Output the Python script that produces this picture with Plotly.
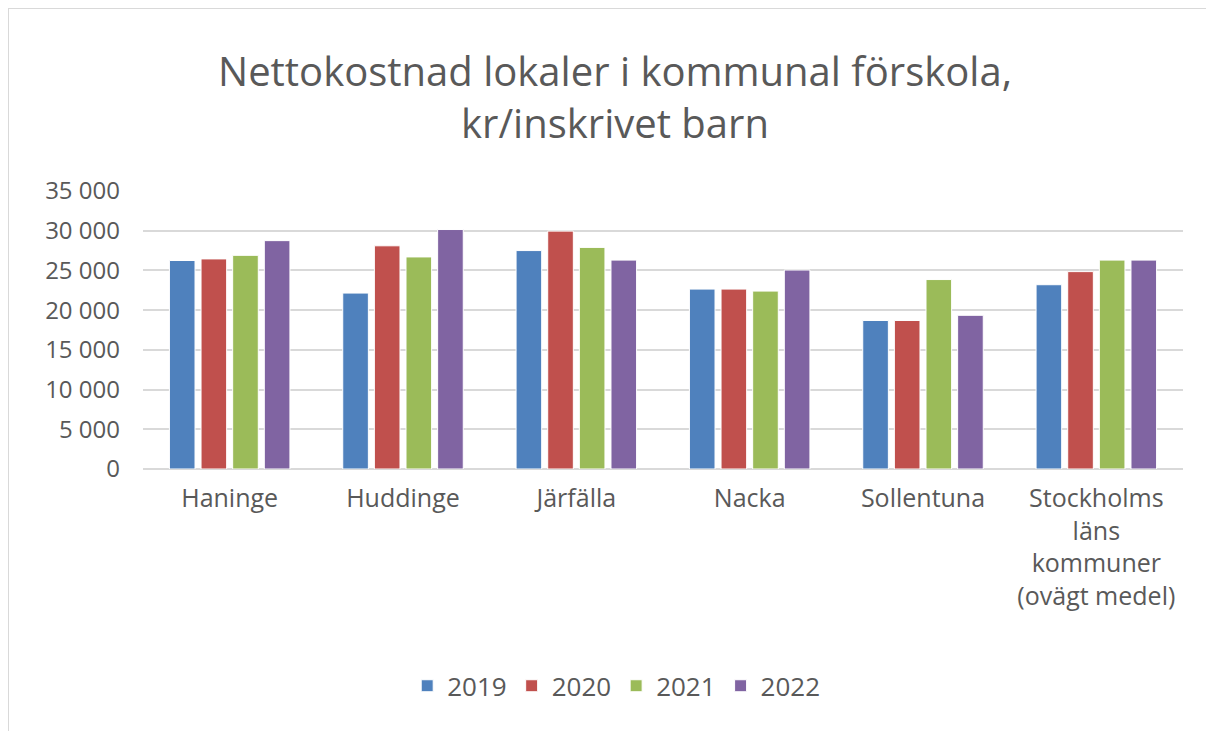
import plotly.graph_objects as go

# data
kommuner = ["Haninge", "Huddinge", "Järfälla", "Nacka", "Sollentuna",
            "Stockholms<br>läns<br>kommuner<br>(ovägt medel)"]
år = ["2019", "2020", "2021", "2022"]
v2019 = [26250, 22150, 27500, 22650, 18700, 23200]
v2020 = [26450, 28100, 29950, 22650, 18700, 24850]
v2021 = [26900, 26700, 27900, 22400, 23850, 26300]
v2022 = [28750, 30150, 26300, 25050, 19350, 26300]
färger = ["#4F81BD", "#C0504D", "#9BBB59", "#8064A2"]

fig = go.Figure()
for namn, värden, färg in zip(år, [v2019, v2020, v2021, v2022], färger):
    fig.add_trace(go.Bar(x=kommuner, y=värden, name=namn,
                         marker=dict(color=färg, line=dict(color="white", width=1))))

font = "Open Sans, Noto Sans, sans-serif"
fig.update_layout(
    width=1214, height=731,
    paper_bgcolor="white", plot_bgcolor="white",
    margin=dict(l=135, r=39, t=183, b=270),
    barmode="group", bargap=0.27, bargroupgap=0.19,
    title=dict(text="Nettokostnad lokaler i kommunal förskola,<br>kr/inskrivet barn",
               x=0.5, xref="container", y=0.893, yanchor="top",
               font=dict(family=font, size=40, color="#595959")),
    font=dict(family=font, size=24, color="#595959"),
    xaxis=dict(showline=False, ticks="", ticklabelstandoff=12,
               tickfont=dict(size=25, color="#595959")),
    yaxis=dict(range=[0, 35000], dtick=5000, tickformat=",d",
               gridcolor="#D9D9D9", gridwidth=2, zeroline=True,
               zerolinecolor="#D9D9D9", zerolinewidth=2, ticklabelstandoff=22,
               tickfont=dict(size=24, color="#595959")),
    separators=", ",
    legend=dict(orientation="h", x=0.455, xanchor="center", y=-0.78, yanchor="middle",
                font=dict(size=26, color="#595959"), traceorder="normal"),
    shapes=[dict(type="rect", xref="paper", yref="paper",
                 x0=-0.1298, x1=1.3, y0=-2, y1=1.658,
                 line=dict(color="#D9D9D9", width=2), layer="below")],
)

fig.write_html("out.html")
